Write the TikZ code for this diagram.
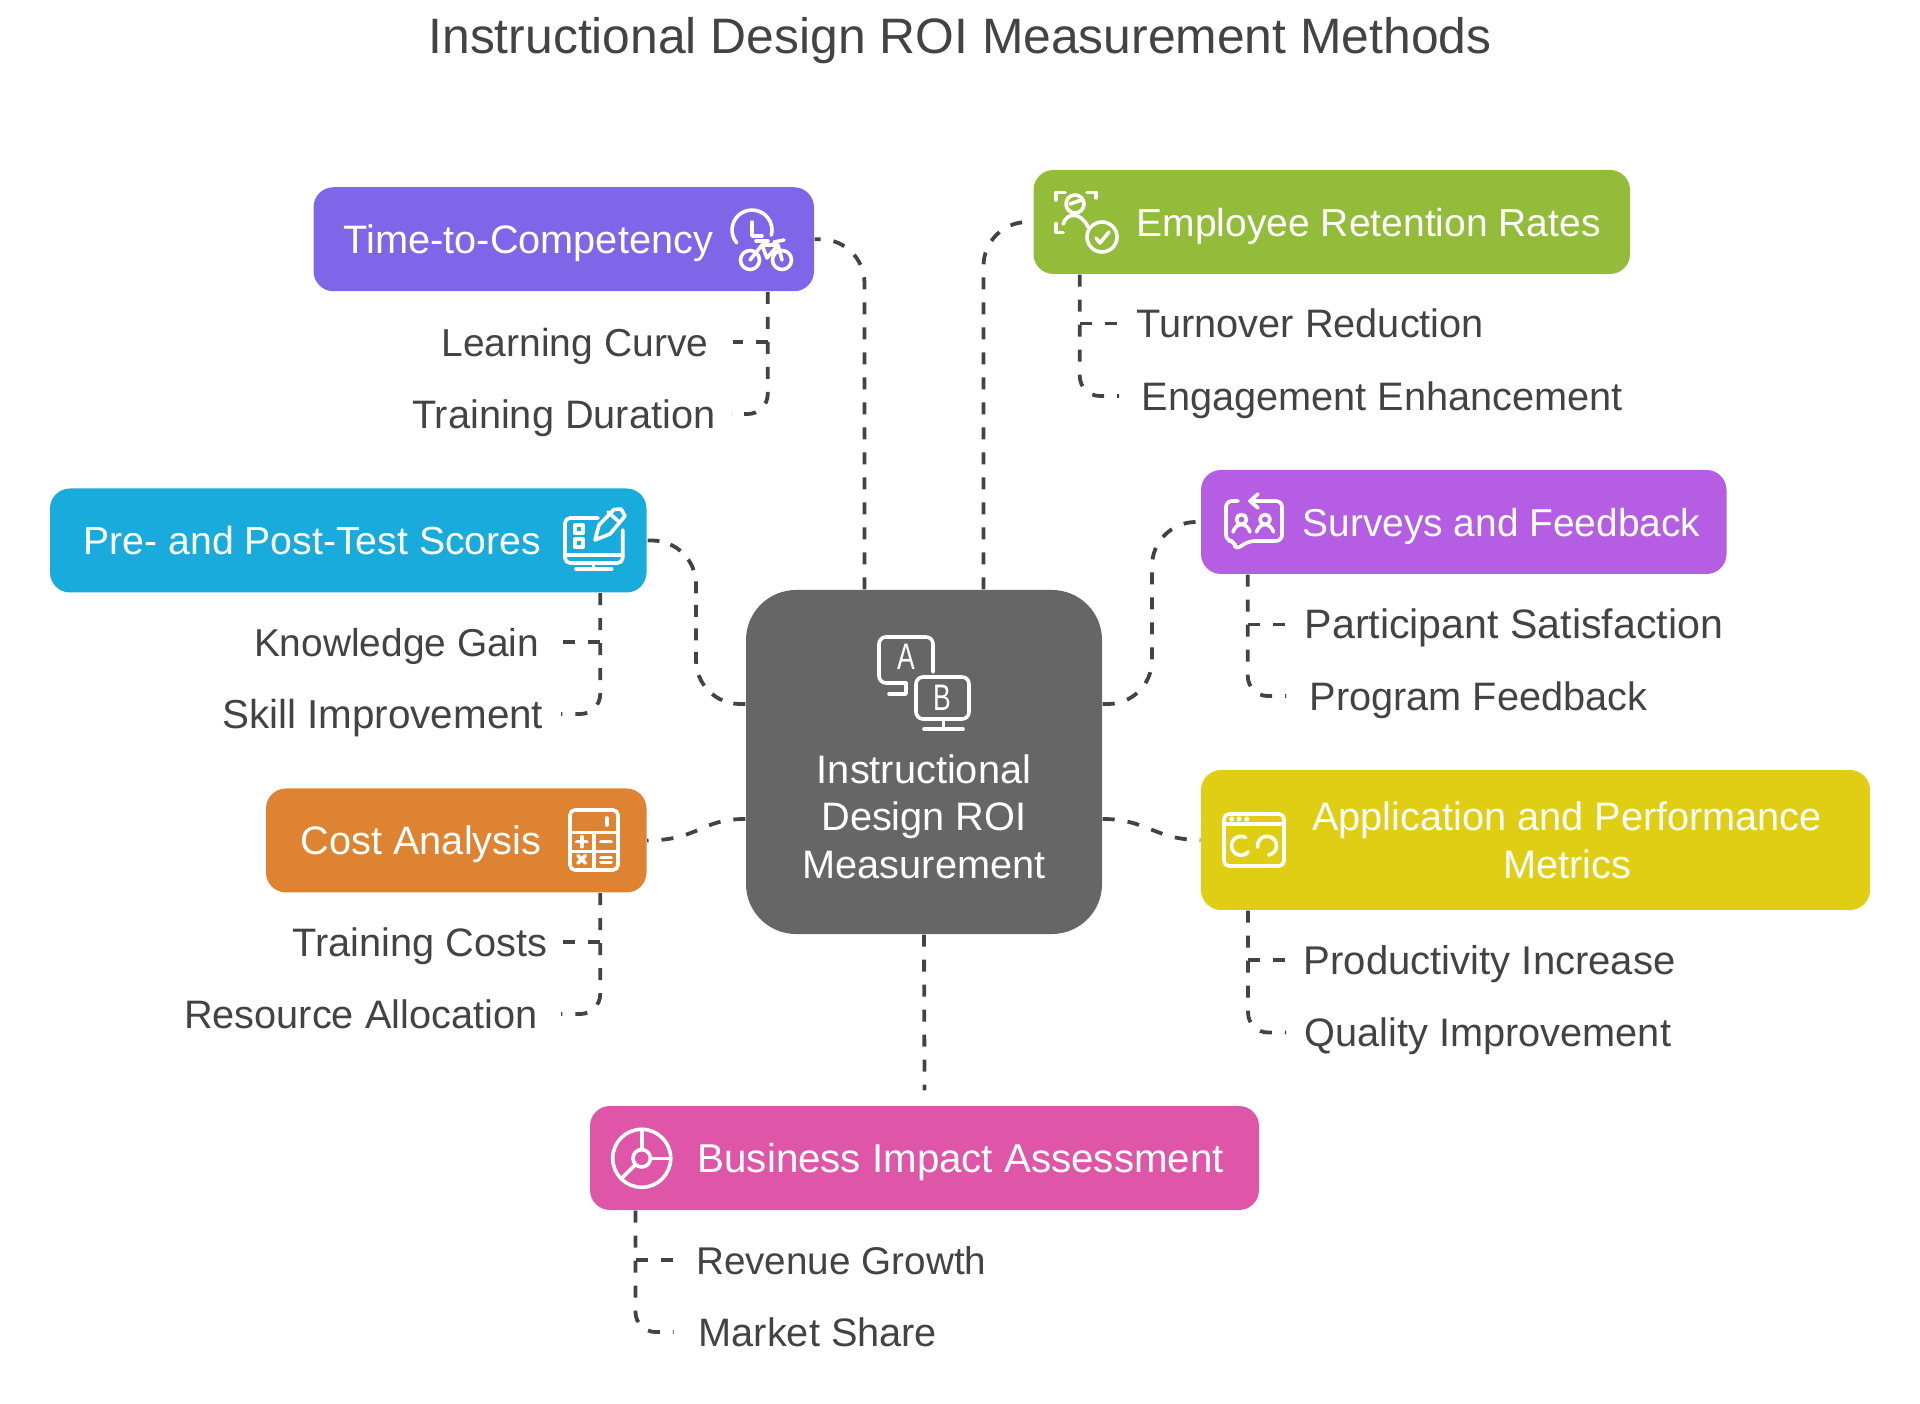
\documentclass[tikz,border=0pt]{standalone}
\usepackage{fontspec}
\setmainfont{Liberation Sans}
\definecolor{inkgray}{HTML}{434343}
\definecolor{centergray}{HTML}{666666}
\definecolor{timeviolet}{HTML}{7F66E8}
\definecolor{retaingreen}{HTML}{93BC3B}
\definecolor{surveypurple}{HTML}{B55EE3}
\definecolor{scoreblue}{HTML}{1AABDD}
\definecolor{costorange}{HTML}{DE8331}
\definecolor{metricyellow}{HTML}{E0CE14}
\definecolor{impactpink}{HTML}{DF56A8}
\newcommand{\labelfont}[1]{\fontsize{#1}{13.5}\selectfont}
\tikzset{
    box/.style={rounded corners=.2cm, minimum height=1.04cm, inner sep=0pt},
    boxtext/.style={white, font=\labelfont{11.3}, inner sep=0pt, text height=.284cm, text depth=0pt},
    leaflabel/.style={inkgray, font=\labelfont{11.3}, inner ysep=0pt, text height=.284cm, text depth=0pt},
    dashline/.style={inkgray, line width=.038cm, dash pattern=on .12cm off .13cm},
    sideline/.style={dashline, rounded corners=.2cm},
    icon/.style={white, line width=.036cm, line cap=round, line join=round}
}

\begin{document}
\begin{tikzpicture}
    \useasboundingbox (0,0) rectangle (19.2,-14.04);

    \node[inkgray, font=\fontsize{14.17}{16}\selectfont, inner sep=0pt] (title) at (9.6,-.41) {Instructional Design ROI Measurement Methods};

    \node[box, fill=centergray, rounded corners=.5cm, minimum width=3.56cm, minimum height=3.44cm] (centerbox) at (9.24,-7.62) {};
    \node[box, fill=timeviolet, minimum width=5.005cm] (timebox) at (5.6375,-2.3925) {};
    \node[box, fill=retaingreen, minimum width=5.965cm] (retainbox) at (13.3175,-2.22) {};
    \node[box, fill=surveypurple, minimum width=5.255cm] (surveybox) at (14.6375,-5.22) {};
    \node[box, fill=scoreblue, minimum width=5.965cm] (scorebox) at (3.4825,-5.405) {};
    \node[box, fill=costorange, minimum width=3.805cm] (costbox) at (4.5625,-8.405) {};
    \node[box, fill=metricyellow, minimum width=6.69cm, minimum height=1.4cm] (metricbox) at (15.355,-8.4) {};
    \node[box, fill=impactpink, minimum width=6.69cm] (impactbox) at (9.245,-11.58) {};

    \node[boxtext, align=center] (centertext) at (9.24,-8.64) {Instructional\\Design ROI\\Measurement};
    \node[boxtext, anchor=west] (timetext) at (3.43,-2.3925) {Time-to-Competency};
    \node[boxtext, anchor=west, font=\labelfont{11.1}] (retaintext) at (11.36,-2.22) {Employee Retention Rates};
    \node[boxtext, anchor=west, font=\labelfont{11.06}] (surveytext) at (13.02,-5.22) {Surveys and Feedback};
    \node[boxtext, anchor=west, font=\labelfont{11.15}] (scoretext) at (.83,-5.405) {Pre- and Post-Test Scores};
    \node[boxtext, anchor=west] (costtext) at (3,-8.405) {Cost Analysis};
    \node[boxtext, align=center] (metrictext) at (15.67,-8.64) {Application and Performance\\Metrics};
    \node[boxtext, anchor=west, font=\labelfont{11.46}] (impacttext) at (6.97,-11.58) {Business Impact Assessment};

    \node[leaflabel, anchor=east, inner xsep=.24cm, font=\labelfont{11.1}] (curvelabel) at (7.33,-3.42) {Learning Curve};
    \node[leaflabel, anchor=east, inner xsep=.15cm] (durationlabel) at (7.31,-4.14) {Training Duration};
    \node[leaflabel, anchor=west, inner xsep=.19cm] (turnoverlabel) at (11.17,-3.235) {Turnover Reduction};
    \node[leaflabel, anchor=west, inner xsep=.22cm] (engagelabel) at (11.19,-3.96) {Engagement Enhancement};
    \node[leaflabel, anchor=west, inner xsep=.18cm, font=\labelfont{11.7}] (satisfylabel) at (12.86,-6.245) {Participant Satisfaction};
    \node[leaflabel, anchor=west, inner xsep=.23cm] (feedbacklabel) at (12.86,-6.96) {Program Feedback};
    \node[leaflabel, anchor=east, inner xsep=.23cm, font=\labelfont{11.06}] (gainlabel) at (5.63,-6.42) {Knowledge Gain};
    \node[leaflabel, anchor=east, inner xsep=.17cm, font=\labelfont{11.5}] (skilllabel) at (5.61,-7.14) {Skill Improvement};
    \node[leaflabel, anchor=east, inner xsep=.15cm] (traincostlabel) at (5.63,-9.42) {Training Costs};
    \node[leaflabel, anchor=east, inner xsep=.23cm] (resourcelabel) at (5.61,-10.14) {Resource Allocation};
    \node[leaflabel, anchor=west, inner xsep=.17cm, font=\labelfont{11.4}] (productlabel) at (12.86,-9.6) {Productivity Increase};
    \node[leaflabel, anchor=west, inner xsep=.18cm] (qualitylabel) at (12.86,-10.325) {Quality Improvement};
    \node[leaflabel, anchor=west, inner xsep=.22cm, font=\labelfont{11}] (revenuelabel) at (6.735,-12.6) {Revenue Growth};
    \node[leaflabel, anchor=west, inner xsep=.245cm] (marketlabel) at (6.735,-13.32) {Market Share};

    \coordinate (timebranch) at ([xshift=2.04cm]timebox.south);
    \coordinate (retainbranch) at ([xshift=-2.52cm]retainbox.south);
    \coordinate (surveybranch) at ([xshift=-2.16cm]surveybox.south);
    \coordinate (scorebranch) at ([xshift=2.52cm]scorebox.south);
    \coordinate (costbranch) at ([xshift=1.44cm]costbox.south);
    \coordinate (metricbranch) at ([xshift=-2.875cm]metricbox.south);
    \coordinate (impactbranch) at ([xshift=-2.89cm]impactbox.south);
    \coordinate (surveybend) at (11.52,-7.04);
    \coordinate (scorebend) at (6.96,-7.04);

    % main connectors
    \draw[dashline, rounded corners=.44cm] ([xshift=-.595cm]centerbox.north) |- (timebox.east);
    \draw[dashline, rounded corners=.44cm] ([xshift=.595cm]centerbox.north) |- (retainbox.west);
    \draw[dashline, rounded corners=.44cm] ([yshift=.58cm]centerbox.east) -- (surveybend) |- (surveybox.west);
    \draw[dashline, rounded corners=.44cm, dash pattern=on .12cm off .115cm] ([yshift=.58cm]centerbox.west) -- (scorebend) |- (scorebox.east);
    \draw[dashline] ([yshift=-.57cm]centerbox.west) .. controls (7,-8.19) and (7,-8.4) .. (costbox.east);
    \draw[dashline] ([yshift=-.57cm]centerbox.east) .. controls (11.47,-8.19) and (11.55,-8.4) .. (metricbox.west);
    \draw[dashline] (centerbox.south) -- ([yshift=.15cm]impactbox.north);

    % side connectors
    \draw[sideline] (timebranch) |- (durationlabel.east);
    \draw[dashline] (timebranch |- curvelabel.east) -- (curvelabel.east);
    \draw[sideline] (retainbranch) |- (engagelabel.west);
    \draw[dashline] (retainbranch |- turnoverlabel.west) -- (turnoverlabel.west);
    \draw[sideline] (surveybranch) |- (feedbacklabel.west);
    \draw[dashline] (surveybranch |- satisfylabel.west) -- (satisfylabel.west);
    \draw[sideline] (scorebranch) |- (skilllabel.east);
    \draw[dashline] (scorebranch |- gainlabel.east) -- (gainlabel.east);
    \draw[sideline] (costbranch) |- (resourcelabel.east);
    \draw[dashline] (costbranch |- traincostlabel.east) -- (traincostlabel.east);
    \draw[sideline] (metricbranch) |- (qualitylabel.west);
    \draw[dashline] (metricbranch |- productlabel.west) -- (productlabel.west);
    \draw[sideline] (impactbranch) |- (marketlabel.west);
    \draw[dashline] (impactbranch |- revenuelabel.west) -- (revenuelabel.west);

    % center icon
    \draw[icon, rounded corners=.07cm] (9.33,-6.72) -- (9.33,-6.37) -- (8.79,-6.37) -- (8.79,-6.83) -- (9.06,-6.83);
    \draw[icon] (9.06,-6.83) -- (9.06,-6.94) -- (8.89,-6.94);
    \draw[icon, rounded corners=.07cm] (9.16,-6.77) rectangle (9.69,-7.19);
    \draw[icon] (9.435,-7.19) -- (9.435,-7.29);
    \draw[icon] (9.24,-7.29) -- (9.63,-7.29);
    \node[white, font=\fontsize{10.5}{10.5}\selectfont, inner sep=0pt, xscale=.72, transform shape] (iconA) at (9.06,-6.57) {A};
    \node[white, font=\fontsize{10.5}{10.5}\selectfont, inner sep=0pt, xscale=.72, transform shape] (iconB) at (9.42,-6.98) {B};

    % time icon
    \draw[icon] (7.367,-2.429) arc[start angle=220, end angle=-15, radius=.2];
    \draw[icon] (7.52,-2.22) |- (7.62,-2.36);
    \draw[icon] (7.50,-2.60) circle (.095);
    \draw[icon] (7.82,-2.60) circle (.095);
    \draw[icon] (7.50,-2.60) -- (7.62,-2.45) -- (7.78,-2.45) -- (7.82,-2.60);
    \draw[icon] (7.62,-2.45) -- (7.67,-2.58) -- (7.78,-2.45);
    \draw[icon] (7.56,-2.41) -- (7.68,-2.41);
    \draw[icon] (7.74,-2.42) -- (7.84,-2.40);

    % retention icon
    \draw[icon] (10.56,-2.0) |- (10.65,-1.925);
    \draw[icon] (10.87,-1.925) -| (10.96,-1.98);
    \draw[icon] (10.56,-2.235) |- (10.63,-2.325);
    \draw[icon] (10.75,-2.04) circle (.09);
    \draw[icon] (10.70,-2.04) -- (10.815,-2.0);
    \draw[icon] (10.63,-2.24) .. controls (10.67,-2.12) and (10.81,-2.12) .. (10.88,-2.27);
    \draw[icon] (11.02,-2.37) circle (.15);
    \draw[icon] (10.96,-2.38) -- (11,-2.43) -- (11.09,-2.32);

    % survey icon
    \draw[icon, rounded corners=.06cm] (12.38,-5.01) -- (12.26,-5.01) -- (12.26,-5.41) -- (12.35,-5.41) -- (12.35,-5.50) -- (12.49,-5.41) -- (12.82,-5.41) -- (12.82,-5.01) -- (12.5,-5.01);
    \draw[icon] (12.58,-4.94) -- (12.5,-5.01) -- (12.58,-5.08);
    \draw[icon] (12.415,-5.195) circle (.05);
    \draw[icon] (12.65,-5.195) circle (.05);
    \draw[icon] (12.33,-5.32) .. controls (12.36,-5.22) and (12.47,-5.22) .. (12.5,-5.32);
    \draw[icon] (12.565,-5.32) .. controls (12.6,-5.22) and (12.7,-5.22) .. (12.735,-5.32);

    % score icon
    \draw[icon, rounded corners=.05cm] (5.98,-5.18) -- (5.65,-5.18) -- (5.65,-5.63) -- (6.227,-5.63) -- (6.227,-5.3);
    \draw[icon] (5.65,-5.55) -- (6.227,-5.55);
    \draw[icon] (5.933,-5.63) -- (5.933,-5.69);
    \draw[icon] (5.76,-5.69) -- (6.117,-5.69);
    \draw[icon] (5.75,-5.253) rectangle (5.83,-5.333);
    \draw[icon] (5.75,-5.393) rectangle (5.83,-5.473);
    \draw[icon] (5.95,-5.40) -- (5.99,-5.25) -- (6.14,-5.095) -- (6.21,-5.09) -- (6.25,-5.16) -- (6.10,-5.34) -- cycle;
    \draw[icon] (6.08,-5.12) -- (6.18,-5.21);

    % cost icon
    \draw[icon, rounded corners=.05cm] (5.70,-8.10) rectangle (6.18,-8.70);
    \draw[icon] (5.70,-8.327) -- (6.18,-8.327);
    \draw[icon] (5.94,-8.327) -- (5.94,-8.70);
    \draw[icon] (5.70,-8.517) -- (6.18,-8.517);
    \draw[icon] (6.067,-8.18) -- (6.067,-8.25);
    \draw[icon] (5.767,-8.417) -- (5.867,-8.417);
    \draw[icon] (5.817,-8.367) -- (5.817,-8.467);
    \draw[icon] (6.01,-8.417) -- (6.11,-8.417);
    \draw[icon] (5.78,-8.556) -- (5.854,-8.63);
    \draw[icon] (5.854,-8.556) -- (5.78,-8.63);
    \draw[icon] (6.01,-8.577) -- (6.11,-8.577);
    \draw[icon] (6.01,-8.623) -- (6.11,-8.623);

    % metric icon
    \draw[icon, rounded corners=.05cm] (12.24,-8.14) rectangle (12.84,-8.66);
    \draw[icon] (12.24,-8.24) -- (12.84,-8.24);
    \fill[white] (12.317,-8.19) circle (.025) (12.39,-8.19) circle (.025) (12.467,-8.19) circle (.025);
    \draw[icon] (12.4575,-8.375) arc[start angle=60, end angle=320, radius=.095];
    \draw[icon] (12.6865,-8.5506) arc[start angle=-80, end angle=190, radius=.095];

    % impact icon
    \draw[icon] (6.417,-11.583) circle (.29);
    \draw[icon] (6.417,-11.583) circle (.087);
    \draw[icon] (6.417,-11.496) -- (6.417,-11.293);
    \draw[icon] (6.504,-11.583) -- (6.707,-11.583);
    \draw[icon] (6.355,-11.645) -- (6.21,-11.79);
\end{tikzpicture}
\end{document}
